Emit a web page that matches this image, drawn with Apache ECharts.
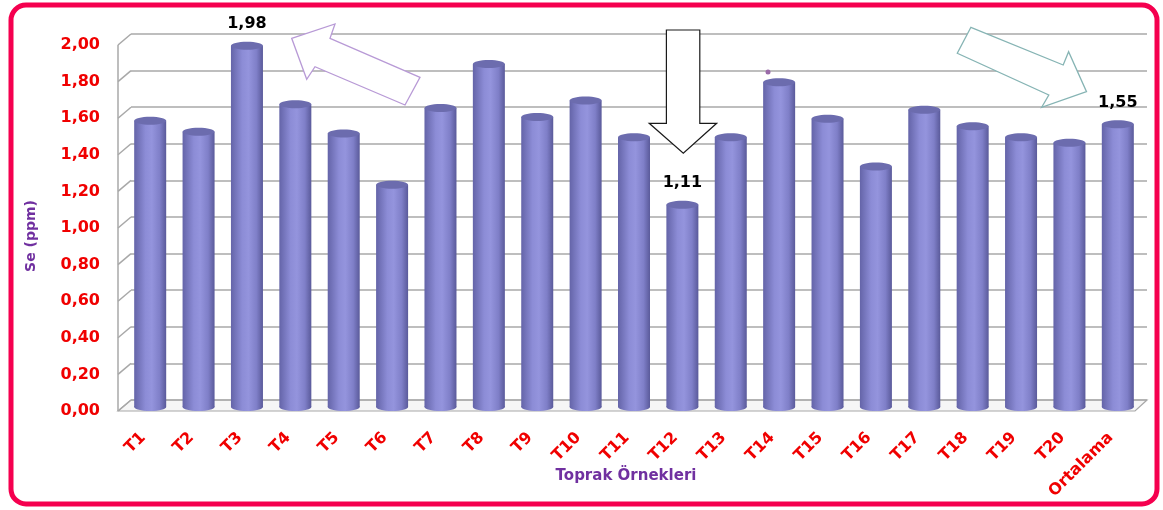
<!DOCTYPE html>
<html><head><meta charset="utf-8">
<script src="https://cdn.jsdelivr.net/npm/echarts@6/dist/echarts.min.js"></script>
<style>html,body{margin:0;padding:0;background:#fff}#c{width:1163px;height:510px}</style>
</head><body><div id="c"></div>
<script>
const categories = ['T1','T2','T3','T4','T5','T6','T7','T8','T9','T10','T11','T12','T13','T14','T15','T16','T17','T18','T19','T20','Ortalama'];
const seValues = [1.57,1.51,1.98,1.66,1.50,1.22,1.64,1.88,1.59,1.68,1.48,1.11,1.48,1.78,1.58,1.32,1.63,1.54,1.48,1.45,1.55];
const labelledIdx = [2, 11, 20];
const yTicks = [0,0.2,0.4,0.6,0.8,1.0,1.2,1.4,1.6,1.8,2.0];
const yAxisName = 'Se (ppm)';
const xAxisName = 'Toprak Örnekleri';

const FONT = 'DejaVu Sans';
const fmt = v => v.toFixed(2).replace('.', ',');
const chart = echarts.init(document.getElementById('c'), null, {renderer:'canvas'});

const bodyGrad = new echarts.graphic.LinearGradient(0,0,1,0,[
  {offset:0,color:'#6464a8'},{offset:0.35,color:'#8c8cd6'},{offset:0.55,color:'#9494dd'},{offset:0.8,color:'#7f7fc8'},{offset:1,color:'#5a5a9a'}]);

chart.setOption({
  animation:false,
  backgroundColor:'#fff',
  grid:[
    {left:126,right:21,top:45,bottom:99},
    {left:131,right:16,top:34,bottom:110}
  ],
  xAxis:[
    {type:'category',gridIndex:0,data:categories,axisLine:{show:false},axisTick:{show:false},
     axisLabel:{rotate:45,interval:0,margin:17,padding:[0,10,0,0],color:'#f00000',fontWeight:'bold',fontSize:16,fontFamily:FONT}},
    {type:'category',gridIndex:1,data:categories,show:false}
  ],
  yAxis:[
    {type:'value',gridIndex:0,min:yTicks[0],max:yTicks[yTicks.length-1],interval:0.2,
     axisLine:{show:false},axisTick:{show:false},splitLine:{show:false},
     axisLabel:{margin:26,color:'#f00000',fontWeight:'bold',fontSize:16,fontFamily:FONT,formatter:fmt}},
    {type:'value',gridIndex:1,min:yTicks[0],max:yTicks[yTicks.length-1],interval:0.2,
     axisLine:{show:false},axisTick:{show:false},axisLabel:{show:false},
     splitLine:{show:true,lineStyle:{color:'#a8a8a8',width:1.5}}}
  ],
  series:[{
    type:'custom',xAxisIndex:0,yAxisIndex:0,z:10,
    data:seValues.map((v,i)=>[i,v]),
    renderItem:function(params, api){
      const i = api.value(0);
      const p = api.coord([i, api.value(1)]);
      const b = api.coord([i, 0]);
      const w = 32, ry = 4;
      const top = p[1]-3, bottom = b[1]-4;
      const children = [
        {type:'rect',shape:{x:p[0]-w/2,y:top,width:w,height:bottom-top},style:{fill:bodyGrad}},
        {type:'ellipse',shape:{cx:p[0],cy:bottom,rx:w/2,ry:ry},style:{fill:bodyGrad}},
        {type:'ellipse',shape:{cx:p[0],cy:top,rx:w/2,ry:ry},style:{fill:'#6c6cae'}}
      ];
      if (labelledIdx.indexOf(i) >= 0) {
        children.push({type:'text',style:{x:p[0],y:top-22,text:fmt(api.value(1)),align:'center',verticalAlign:'middle',
          fill:'#000',font:'bold 16px "'+FONT+'"'}});
      }
      return {type:'group',children:children};
    }
  }]
});

// 3D frame built from the axis scales
const yF = v => chart.convertToPixel({yAxisIndex:0}, v);
const yB = v => chart.convertToPixel({yAxisIndex:1}, v);
const xL = 118, xLB = 131, xRF = 1135, xRB = 1147;
const lineStyle = {stroke:'#a8a8a8',lineWidth:1.5};
const g = [];
g.push({type:'rect',shape:{x:11,y:5,width:1146,height:499,r:15},style:{fill:'none',stroke:'#f5004f',lineWidth:5},z:0});
g.push({type:'polygon',shape:{points:[[xL,yF(0)],[xLB,yB(0)],[xRB,yB(0)],[xRF,yF(0)]]},style:{fill:'#f6f6f6',stroke:'#a8a8a8',lineWidth:1.2},z:-1});
yTicks.forEach(v=>{ g.push({type:'line',shape:{x1:xL,y1:yF(v),x2:xLB,y2:yB(v)},style:lineStyle,z:-1}); });
g.push({type:'line',shape:{x1:xL,y1:yF(yTicks[yTicks.length-1]),x2:xL,y2:yF(0)},style:lineStyle,z:-1});
// annotations
g.push({type:'polygon',z:100,shape:{points:[[291.7,38.3],[335,24],[330,38.3],[420,77.3],[405,105],[315,66.7],[306.7,79.3]]},
  style:{fill:'#fff',stroke:'#b89ad6',lineWidth:1.3}});
g.push({type:'polygon',z:100,shape:{points:[[666.4,30],[699.8,30],[699.8,123.3],[716.7,123.3],[683.3,153.3],[649.2,123.3],[666.4,123.3]]},
  style:{fill:'#fff',stroke:'#1a1a1a',lineWidth:1.2}});
g.push({type:'polygon',z:100,shape:{points:[[970.9,27.3],[1063.2,65],[1068.6,51.7],[1086.5,91.7],[1041.7,107.3],[1048.8,95],[957.3,53.3]]},
  style:{fill:'#fff',stroke:'#86b4b4',lineWidth:1.3}});
g.push({type:'circle',z:100,shape:{cx:768,cy:72,r:2.5},style:{fill:'#9a6aa8'}});
g.push({type:'text',z:100,style:{x:626,y:476,text:xAxisName,align:'center',verticalAlign:'middle',fill:'#7030a0',font:'bold 15px "'+FONT+'"'}});
g.push({type:'text',z:100,x:31,y:236,rotation:Math.PI/2,style:{x:0,y:0,text:yAxisName,align:'center',verticalAlign:'middle',fill:'#7030a0',font:'bold 14px "'+FONT+'"'}});
chart.setOption({graphic:g});
</script></body></html>
